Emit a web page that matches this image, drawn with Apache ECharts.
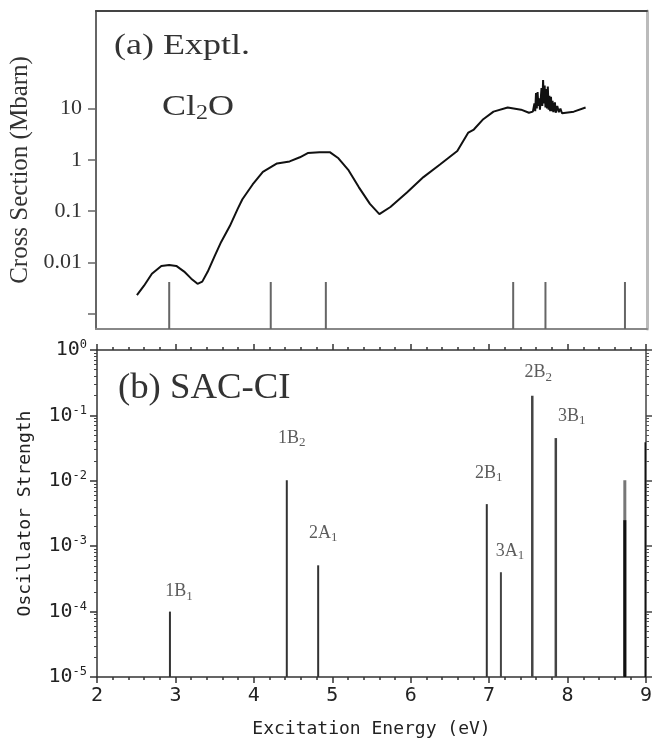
<!DOCTYPE html>
<html><head><meta charset="utf-8">
<script src="https://cdn.jsdelivr.net/npm/echarts@6/dist/echarts.min.js"></script>
<style>html,body{margin:0;padding:0;background:#fff}#c{width:652px;height:738px}</style>
</head><body><div id="c"></div>
<script>
// ---------- data ----------
const exptEnergy = [2.52, 2.61, 2.71, 2.83, 2.93, 3.02, 3.12, 3.21, 3.29, 3.35, 3.42, 3.51, 3.59, 3.70, 3.80, 3.86, 3.99, 4.12, 4.30, 4.46, 4.59, 4.69, 4.84, 4.97, 5.08, 5.21, 5.34, 5.48, 5.60, 5.74, 5.95, 6.16, 6.37, 6.59, 6.73, 6.80, 6.92, 7.05, 7.23, 7.40, 7.50, 7.55,
  7.57, 7.58, 7.59, 7.60, 7.61, 7.62, 7.63, 7.64, 7.66, 7.67, 7.68, 7.69, 7.70, 7.71, 7.72, 7.73, 7.74, 7.75, 7.76, 7.77, 7.78, 7.79, 7.80, 7.81, 7.83, 7.84, 7.86, 7.88, 7.90, 7.92, 7.94, 8.07, 8.22];
const exptCross = [0.0023, 0.0035, 0.0060, 0.0085, 0.0089, 0.0085, 0.0066, 0.0048, 0.0038, 0.0042, 0.0066, 0.0135, 0.025, 0.051, 0.11, 0.17, 0.33, 0.58, 0.85, 0.93, 1.12, 1.35, 1.41, 1.41, 1.07, 0.62, 0.29, 0.138, 0.087, 0.12, 0.23, 0.46, 0.81, 1.48, 3.4, 3.9, 6.2, 8.7, 10.5, 9.5, 8.3, 8.7,
  12.6, 8.9, 20, 10, 21, 11.2, 15.8, 9.5, 25, 11.2, 36, 12.6, 28, 10.5, 24, 10, 27, 9.5, 17.8, 8.9, 17, 8.9, 14.1, 8.5, 13.2, 8.3, 11.2, 8.5, 10, 8.1, 8.3, 8.7, 10.5];
const exptPeakEnergy = [2.93, 4.22, 4.92, 7.30, 7.71, 8.72];

const stateEnergy = [2.93, 4.42, 4.82, 6.97, 7.15, 7.55, 7.85, 8.73, 8.73, 9.00];
const stateStrength = [1.0e-4, 1.02e-2, 5.1e-4, 4.4e-3, 4.0e-4, 0.20, 0.045, 0.0102, 0.0025, 0.039];
const stateName = ['1B{s|1}', '1B{s|2}', '2A{s|1}', '2B{s|1}', '3A{s|1}', '2B{s|2}', '3B{s|1}', '', '', ''];

const xTickValues = [2, 3, 4, 5, 6, 7, 8, 9];
const topTickValues = [0.001, 0.01, 0.1, 1, 10];
const topTickLabels = ['', '0.01', '0.1', '1', '10'];
const bottomTickValues = [1e-5, 1e-4, 1e-3, 1e-2, 1e-1, 1];
const bottomTickLabels = ['10{p|-5}', '10{p|-4}', '10{p|-3}', '10{p|-2}', '10{p|-1}', '10{p|0}'];

// ---------- styles ----------
const stickColor = ['#333', '#333', '#333', '#333', '#444', '#444', '#444', '#777', '#111', '#111'];
const stickWidth = [2, 2, 2, 2, 2, 2.5, 2.5, 3, 3, 3];
const labelOffset = [[9, -20], [5, -42], [5, -32], [2, -31], [9, -21], [6, -23], [16, -22], [0, 0], [0, 0], [0, 0]];

const topMin = 5e-4, topMax = 800;
const botMin = 1e-5, botMax = 1;
const minorLog = [];
bottomTickValues.slice(0, -1).forEach(d => { for (let k = 2; k <= 9; k++) minorLog.push(+(k * d).toPrecision(3)); });

const serif = '"Liberation Serif", "DejaVu Serif", serif';
const mono = '"DejaVu Sans Mono", "Liberation Mono", monospace';
const findIdx = (arr, v) => arr.findIndex(t => Math.abs(Math.log10(t) - Math.log10(v)) < 1e-6);

const chart = echarts.init(document.getElementById('c'), null, { renderer: 'canvas' });
const option = {
  backgroundColor: '#fff',
  animation: false,
  grid: [
    { left: 96, right: 5, top: 11, height: 318, outerBoundsMode: 'none', containLabel: false },
    { left: 97, right: 6, top: 350, height: 327, outerBoundsMode: 'none', containLabel: false }
  ],
  xAxis: [
    { gridIndex: 0, type: 'value', position: 'bottom', min: 2, max: 9,
      axisLine: { lineStyle: { color: '#888', width: 2 } }, axisTick: { show: false }, axisLabel: { show: false }, splitLine: { show: false } },
    { gridIndex: 0, type: 'value', position: 'top', min: 2, max: 9,
      axisLine: { lineStyle: { color: '#444', width: 2 } }, axisTick: { show: false }, axisLabel: { show: false }, splitLine: { show: false } },
    { gridIndex: 1, type: 'value', position: 'bottom', min: 2, max: 9, interval: 1,
      axisLine: { onZero: false, lineStyle: { color: '#333', width: 1.5 } },
      axisTick: { length: 6, lineStyle: { color: '#333', width: 1.5 } },
      minorTick: { show: true, splitNumber: 5, length: 3, lineStyle: { color: '#333', width: 1.5 } },
      axisLabel: { fontFamily: mono, fontSize: 20, color: '#222', margin: 9, formatter: v => String(v) },
      splitLine: { show: false },
      name: 'Excitation Energy (eV)', nameLocation: 'middle', nameGap: 43,
      nameTextStyle: { fontFamily: mono, fontSize: 18, color: '#222' } },
    { gridIndex: 1, type: 'value', position: 'top', min: 2, max: 9, interval: 1,
      axisLine: { onZero: false, lineStyle: { color: '#333', width: 1.5 } },
      axisTick: { length: 6, lineStyle: { color: '#333', width: 1.5 } },
      minorTick: { show: true, splitNumber: 5, length: 3, lineStyle: { color: '#333', width: 1.5 } },
      axisLabel: { show: false }, splitLine: { show: false } }
  ],
  yAxis: [
    { gridIndex: 0, type: 'log', position: 'left', min: topMin, max: topMax,
      axisLine: { lineStyle: { color: '#666', width: 2 } },
      axisTick: { customValues: topTickValues, length: 8, lineStyle: { color: '#666', width: 1.5 } },
      axisLabel: { customValues: topTickValues, margin: 14, fontFamily: serif, fontSize: 22, color: '#333',
        formatter: v => { const i = findIdx(topTickValues, v); return i >= 0 ? topTickLabels[i] : ''; } },
      splitLine: { show: false },
      name: 'Cross Section (Mbarn)', nameLocation: 'middle', nameGap: 60, nameRotate: 90,
      nameTextStyle: { fontFamily: serif, fontSize: 25, color: '#333' } },
    { gridIndex: 0, type: 'log', position: 'right', min: topMin, max: topMax,
      axisLine: { show: true, lineStyle: { color: '#bbb', width: 3 } }, axisTick: { show: false }, axisLabel: { show: false }, splitLine: { show: false } },
    { gridIndex: 1, type: 'log', position: 'left', min: botMin, max: botMax,
      axisLine: { lineStyle: { color: '#333', width: 1.5 } },
      axisTick: { customValues: bottomTickValues, length: 7, lineStyle: { color: '#333', width: 1.5 } },
      axisLabel: { customValues: bottomTickValues, margin: 10, fontFamily: mono, fontSize: 20, color: '#222',
        formatter: v => { const i = findIdx(bottomTickValues, v); return i >= 0 ? bottomTickLabels[i] : ''; },
        rich: { p: { fontFamily: mono, fontSize: 12, color: '#222', padding: [0, 0, 10, 0] } } },
      splitLine: { show: false },
      name: 'Oscillator Strength', nameLocation: 'middle', nameGap: 63, nameRotate: 90,
      nameTextStyle: { fontFamily: mono, fontSize: 18, color: '#222' } },
    { gridIndex: 1, type: 'log', position: 'left', min: botMin, max: botMax,
      axisLine: { show: false },
      axisTick: { customValues: minorLog, length: 3, lineStyle: { color: '#444', width: 1 } },
      axisLabel: { show: false }, splitLine: { show: false } },
    { gridIndex: 1, type: 'log', position: 'right', min: botMin, max: botMax,
      axisLine: { show: true, lineStyle: { color: '#444', width: 1.5 } },
      axisTick: { customValues: bottomTickValues, length: 7, lineStyle: { color: '#444', width: 1.5 } },
      axisLabel: { show: false }, splitLine: { show: false } },
    { gridIndex: 1, type: 'log', position: 'right', min: botMin, max: botMax,
      axisLine: { show: false },
      axisTick: { customValues: minorLog, length: 3, lineStyle: { color: '#555', width: 1 } },
      axisLabel: { show: false }, splitLine: { show: false } }
  ],
  graphic: [
    { type: 'text', left: 114, top: 31, scaleX: 1.2, style: { text: '(a) Exptl.', fontFamily: serif, fontSize: 30, fill: '#333' } },
    { type: 'text', left: 162, top: 92, scaleX: 1.2, style: { text: 'Cl{s|2}O', fontFamily: serif, fontSize: 30, fill: '#333',
        rich: { s: { fontFamily: serif, fontSize: 20, fill: '#333', padding: [13, 0, 0, 0] } } } },
    { type: 'text', left: 118, top: 371, scaleX: 1.05, style: { text: '(b) SAC-CI', fontFamily: serif, fontSize: 35, fill: '#333' } }
  ],
  series: [
    { type: 'line', xAxisIndex: 0, yAxisIndex: 0, showSymbol: false, z: 3,
      lineStyle: { color: '#111', width: 2 },
      data: exptEnergy.map((e, i) => [e, exptCross[i]]) },
    { type: 'custom', xAxisIndex: 0, yAxisIndex: 0, clip: false,
      data: exptPeakEnergy.map(e => [e]),
      renderItem: (params, api) => {
        const x = api.coord([api.value(0), topMin])[0];
        const yb = params.coordSys.y + params.coordSys.height;
        return { type: 'line', shape: { x1: x, y1: yb, x2: x, y2: yb - 47 }, style: { stroke: '#666', lineWidth: 2 } };
      } },
    { type: 'custom', xAxisIndex: 2, yAxisIndex: 2, clip: true,
      data: stateEnergy.map((e, i) => [e, stateStrength[i]]),
      renderItem: (params, api) => {
        const i = params.dataIndex;
        const top = api.coord([api.value(0), api.value(1)]);
        const base = api.coord([api.value(0), botMin]);
        return { type: 'line', shape: { x1: top[0], y1: base[1], x2: top[0], y2: top[1] },
          style: { stroke: stickColor[i], lineWidth: stickWidth[i] } };
      } },
    { type: 'scatter', xAxisIndex: 2, yAxisIndex: 2, symbolSize: 0, silent: true,
      data: stateEnergy.map((e, i) => ({ value: [e, stateStrength[i]], name: stateName[i],
        label: { offset: labelOffset[i] } })).filter(d => d.name !== ''),
      label: { show: true, position: 'inside', formatter: p => p.name,
        fontFamily: serif, fontSize: 18, color: '#333',
        rich: { s: { fontFamily: serif, fontSize: 13, color: '#333', padding: [9, 0, 0, 0] } } } }
  ]
};
chart.setOption(option);
</script>
</body></html>
